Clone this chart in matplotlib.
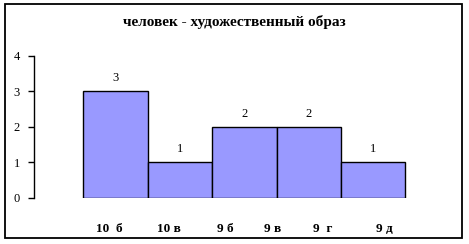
import matplotlib
matplotlib.use("Agg")
import matplotlib.pyplot as plt
from matplotlib.patches import Rectangle

# chart data
title = "человек - художественный образ"
values = [3, 1, 2, 2, 1]
cat_labels = ["10  б", "10 в", "9 б", "9 в", "9  г", "9 д"]
cat_pos = [-0.10, 0.83, 1.70, 2.44, 3.22, 4.17]
yticks = [0, 1, 2, 3, 4]

plt.rcParams['font.family'] = ['Liberation Serif', 'DejaVu Serif']

W, H = 469, 244
fig = plt.figure(figsize=(W / 100, H / 100), dpi=100)
fig.patch.set_facecolor('white')

# outer frame
fig.patches.append(Rectangle((5 / W, 6 / H), 457 / W, 234 / H, transform=fig.transFigure,
                             fill=False, edgecolor='black', linewidth=1.3))

ax = fig.add_axes([34 / W, 46.3 / H, 428 / W, (188 - 46.3) / H])
x = list(range(len(values)))
ax.bar(x, values, width=1.0, color='#9999FF', edgecolor='black', linewidth=1.0)
for xi, v in zip(x, values):
    ax.text(xi, v + 0.37, str(v), ha='center', va='center', fontsize=9)

ax.set_xlim(-1.266, 5.38)
ax.set_ylim(0, 4)
ax.set_yticks(yticks)
ax.tick_params(axis='y', labelsize=9, length=4, width=1, pad=6)
ax.set_xticks(cat_pos)
ax.set_xticklabels(cat_labels, fontsize=9.5, fontweight='bold')
ax.tick_params(axis='x', length=0, pad=18)
for s in ['top', 'right', 'bottom']:
    ax.spines[s].set_visible(False)
ax.spines['left'].set_linewidth(1.0)

fig.text((121 + 348) / 2 / W, 1 - 22 / H, title, ha='center', va='center',
         fontsize=11, fontweight='bold')

fig.savefig('out.png', dpi=100)
